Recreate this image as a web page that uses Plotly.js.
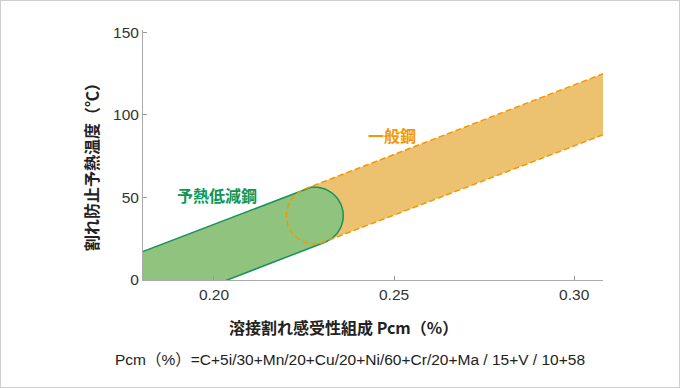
<!DOCTYPE html>
<html>
<head>
<meta charset="utf-8">
<script src="https://cdn.plot.ly/plotly-3.0.1.min.js"></script>
<style>
  html, body { margin: 0; padding: 0; background: #fff; }
  #wrap { position: relative; width: 680px; height: 388px; }
  #frame { position: absolute; left: 0; top: 0; width: 678px; height: 386px; border: 1px solid #cfcfcf; pointer-events: none; }
</style>
</head>
<body>
<div id="wrap"><div id="chart"></div><div id="frame"></div></div>
<script>
// ---- data ----
const bandPcm   = [0.18, 0.308];     // Pcm (%) at the ends of the band
const upperTemp = [17, 125];         // upper edge of band (°C)
const lowerTemp = [-20, 88];         // lower edge of band (°C)
const splitPcm  = 0.228;             // centre of the round boundary 予熱低減鋼 / 一般鋼
const xTickVals = [0.20, 0.25, 0.30];
const xTickText = ['0.20', '0.25', '0.30'];
const yTickVals = [0, 50, 100, 150];
const yTickText = ['0', '50', '100', '150'];
const lowLabel  = '予熱低減鋼';
const lowLabelPos = [0.2008, 51.5];
const genLabel  = '一般鋼';
const genLabelPos = [0.2494, 88];
const xTitle = '溶接割れ感受性組成 Pcm（%）';
const yTitle = '割れ防止予熱温度（℃）';
const formula = 'Pcm（%）=C+5i/30+Mn/20+Cu/20+Ni/60+Cr/20+Ma / 15+V / 10+58';

(function () {
// ---- layout geometry ----
const W = 680, H = 388;
const M = {l: 143, r: 77, t: 30, b: 108};
const xRange = [0.1803, 0.308];
const yRange = [0, 151.5];
const kx = (W - M.l - M.r) / (xRange[1] - xRange[0]);   // px per Pcm unit
const ky = (H - M.t - M.b) / (yRange[1] - yRange[0]);   // px per °C

function lerp(xs, ys, x) { return ys[0] + (ys[1] - ys[0]) * (x - xs[0]) / (xs[1] - xs[0]); }

const cx = splitPcm;
const cyU = lerp(bandPcm, upperTemp, cx), cyL = lerp(bandPcm, lowerTemp, cx);
const cy = (cyU + cyL) / 2;
const slopePx = (upperTemp[1] - upperTemp[0]) / (bandPcm[1] - bandPcm[0]) * ky / kx;
const th = Math.atan(slopePx);
const r = (cyU - cyL) / 2 * ky * Math.cos(th);    // cap radius in px

function capPoint(phi) {
  return [cx + r * Math.cos(phi) / kx, cy + r * Math.sin(phi) / ky];
}
function arc(a0, a1, n) {
  const xs = [], ys = [];
  for (let i = 0; i <= n; i++) {
    const p = capPoint(a0 + (a1 - a0) * i / n);
    xs.push(p[0]); ys.push(p[1]);
  }
  return [xs, ys];
}

// green: from left edge to right round cap
const gArc = arc(th + Math.PI / 2, th - Math.PI / 2, 60);
const gX = [bandPcm[0], ...gArc[0], bandPcm[0]];
const gY = [upperTemp[0], ...gArc[1], lowerTemp[0]];

// orange: left round cap to right edge
const oArc = arc(th - Math.PI / 2, th - 3 * Math.PI / 2, 60); // bottom -> left -> top
const oX = [bandPcm[1], ...oArc[0], bandPcm[1]];
const oY = [lowerTemp[1], ...oArc[1], upperTemp[1]];

const traces = [
  {x: oX, y: oY, mode: 'lines', fill: 'toself', fillcolor: '#ecc271',
   line: {width: 0, color: 'rgba(0,0,0,0)'}, hoverinfo: 'skip', showlegend: false},
  {x: gX, y: gY, mode: 'lines', fill: 'toself', fillcolor: '#8fc37e',
   line: {width: 1.5, color: '#16925a'}, hoverinfo: 'skip', showlegend: false},
  {x: oX, y: oY, mode: 'lines',
   line: {width: 1.5, color: '#f39800', dash: '6px,3px'}, hoverinfo: 'skip', showlegend: false}
];

const tickFont = {family: 'Liberation Sans, Arial, sans-serif', size: 15.5, color: '#333'};
const cjk = 'Noto Sans CJK JP, sans-serif';
function px2paperX(px) { return (px - M.l) / (W - M.l - M.r); }
function px2paperY(py) { return (H - M.b - py) / (H - M.t - M.b); }

const layout = {
  width: W, height: H,
  margin: M,
  paper_bgcolor: '#fff', plot_bgcolor: '#fff',
  showlegend: false,
  xaxis: {range: xRange, tickvals: xTickVals, ticktext: xTickText, showgrid: false, zeroline: false,
          showline: true, linecolor: '#aaa', linewidth: 1, ticks: 'inside', ticklen: 4, tickcolor: '#999',
          tickfont: tickFont, fixedrange: true},
  yaxis: {range: yRange, tickvals: yTickVals, ticktext: yTickText, showgrid: false, zeroline: false,
          showline: true, linecolor: '#aaa', linewidth: 1, ticks: 'inside', ticklen: 4, tickcolor: '#999',
          tickfont: tickFont, fixedrange: true},
  annotations: [
    {text: lowLabel, x: lowLabelPos[0], y: lowLabelPos[1], xref: 'x', yref: 'y', showarrow: false,
     font: {family: cjk, size: 16, color: '#0f9656', weight: 'bold'}},
    {text: genLabel, x: genLabelPos[0], y: genLabelPos[1], xref: 'x', yref: 'y', showarrow: false,
     font: {family: cjk, size: 16, color: '#f39800', weight: 'bold'}},
    {text: xTitle, x: px2paperX(343), y: px2paperY(327), xref: 'paper', yref: 'paper', showarrow: false,
     xanchor: 'center', yanchor: 'middle', font: {family: cjk, size: 16, color: '#222', weight: 'bold'}},
    {text: formula, x: px2paperX(350), y: px2paperY(359), xref: 'paper', yref: 'paper', showarrow: false,
     xanchor: 'center', yanchor: 'middle', font: {family: 'Liberation Sans, Noto Sans CJK JP, sans-serif', size: 15.5, color: '#222'}},
    {text: yTitle, x: px2paperX(91), y: px2paperY(163), xref: 'paper', yref: 'paper', showarrow: false,
     textangle: -90, xanchor: 'center', yanchor: 'middle', font: {family: cjk, size: 16, color: '#222', weight: 'bold'}}
  ]
};

Plotly.newPlot('chart', traces, layout, {displayModeBar: false, staticPlot: true});
})();
</script>
</body>
</html>
